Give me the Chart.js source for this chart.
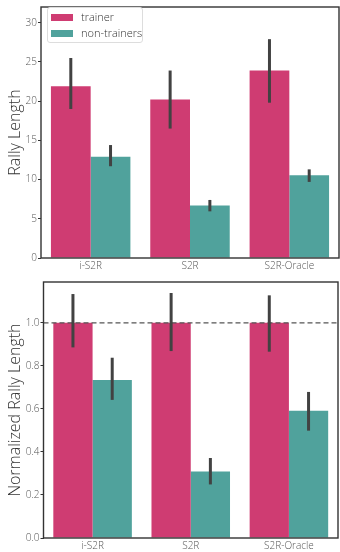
<!DOCTYPE html>
<html>
<head>
<meta charset="utf-8">
<script src="https://cdn.jsdelivr.net/npm/chart.js@4"></script>
<style>
  body { margin: 0; background: #fff; font-family: 'Open Sans', sans-serif; }
  #wrap { position: relative; width: 340px; height: 552px; }
  canvas { position: absolute; left: 0; }
  #top { top: 0; }
  #bottom { top: 275px; }
  #legend {
    position: absolute; left: 47px; top: 7px; width: 94px; height: 34px;
    border: 1px solid #ddd; border-radius: 3px; background: rgba(255,255,255,0.85);
    font-size: 11px; font-weight: 300; color: #333;
  }
  .item { position: absolute; left: 3px; height: 16px; line-height: 16px; }
  .item span.patch { position: absolute; left: 0; top: 5px; width: 22px; height: 7px; }
  .item span.txt { position: absolute; left: 30px; white-space: nowrap; }
</style>
</head>
<body>
<div id="wrap">
  <canvas id="top" width="340" height="275"></canvas>
  <canvas id="bottom" width="340" height="277"></canvas>
  <div id="legend"></div>
</div>
<script>
const categories = ['i-S2R', 'S2R', 'S2R-Oracle'];
const seriesNames = ['trainer', 'non-trainers'];
const colors = ['#cf3c72', '#50a29c'];

// rally length (mean + CI)
const trainerLength = [21.9, 20.2, 23.9];
const trainerLow = [19.0, 16.5, 19.8];
const trainerHigh = [25.5, 23.9, 27.9];
const nonTrainerLength = [12.9, 6.7, 10.55];
const nonTrainerLow = [11.7, 5.95, 9.7];
const nonTrainerHigh = [14.4, 7.4, 11.3];

// normalized rally length
const trainerNorm = [1.0, 1.0, 1.0];
const trainerNormLow = [0.886, 0.869, 0.866];
const trainerNormHigh = [1.134, 1.139, 1.128];
const nonTrainerNorm = [0.735, 0.309, 0.591];
const nonTrainerNormLow = [0.642, 0.249, 0.499];
const nonTrainerNormHigh = [0.838, 0.372, 0.679];

const topTicks = [0, 5, 10, 15, 20, 25, 30];
const bottomTicks = [0.0, 0.2, 0.4, 0.6, 0.8, 1.0];

const FONT = "'Open Sans', sans-serif";

// error bars, dashed reference line and frame
const errorBars = {
  id: 'errorBars',
  afterDatasetsDraw(chart, args, opts) {
    const ctx = chart.ctx;
    const y = chart.scales.y;
    ctx.save();
    if (opts.refLine !== undefined) {
      ctx.strokeStyle = '#555';
      ctx.lineWidth = 1.3;
      ctx.setLineDash([5, 3]);
      ctx.beginPath();
      const py = y.getPixelForValue(opts.refLine);
      ctx.moveTo(chart.chartArea.left, py);
      ctx.lineTo(chart.chartArea.right, py);
      ctx.stroke();
      ctx.setLineDash([]);
    }
    ctx.strokeStyle = '#424242';
    ctx.lineWidth = 3;
    opts.ranges.forEach((r, di) => {
      const meta = chart.getDatasetMeta(di);
      meta.data.forEach((bar, i) => {
        ctx.beginPath();
        ctx.moveTo(bar.x, y.getPixelForValue(r[0][i]));
        ctx.lineTo(bar.x, y.getPixelForValue(r[1][i]));
        ctx.stroke();
      });
    });
    const a = chart.chartArea;
    ctx.strokeStyle = '#333';
    ctx.lineWidth = 1.4;
    ctx.strokeRect(a.left, a.top, a.right - a.left, a.bottom - a.top);
    ctx.restore();
  }
};

function makeChart(id, d1, d2, ranges, yMax, ticks, title, pad, yWidth, xHeight, refLine, fmt) {
  return new Chart(document.getElementById(id), {
    type: 'bar',
    data: {
      labels: categories,
      datasets: [
        { label: seriesNames[0], data: d1, backgroundColor: colors[0] },
        { label: seriesNames[1], data: d2, backgroundColor: colors[1] },
      ],
    },
    options: {
      responsive: false,
      animation: false,
      layout: { padding: pad },
      datasets: { bar: { categoryPercentage: 0.8, barPercentage: 1.0, borderWidth: 0 } },
      plugins: {
        legend: { display: false },
        tooltip: { enabled: false },
        errorBars: { ranges, refLine },
      },
      scales: {
        x: {
          grid: { display: false, drawTicks: false },
          border: { display: false },
          ticks: { color: '#555', font: { family: FONT, size: 10, weight: 300 }, padding: 2 },
          afterFit: (s) => { s.height = xHeight; },
        },
        y: {
          min: 0,
          max: yMax,
          afterBuildTicks: (s) => { s.ticks = ticks.map((v) => ({ value: v })); },
          grid: { drawOnChartArea: false, tickLength: 3, tickColor: '#333', tickWidth: 1 },
          border: { display: false },
          ticks: {
            color: '#555', padding: 1,
            font: { family: FONT, size: 10, weight: 300 },
            callback: fmt,
          },
          title: {
            display: true, text: title, color: '#333', padding: { top: 6, bottom: 0 },
            font: { family: FONT, size: 16, weight: 300 },
          },
          afterFit: (s) => { s.width = yWidth; },
        },
      },
    },
    plugins: [errorBars],
  });
}

makeChart('top', trainerLength, nonTrainerLength,
  [[trainerLow, trainerHigh], [nonTrainerLow, nonTrainerHigh]],
  32, topTicks, 'Rally Length', { top: 2, right: 1, left: 0, bottom: 0 }, 41, 17, undefined,
  (v) => v);

makeChart('bottom', trainerNorm, nonTrainerNorm,
  [[trainerNormLow, trainerNormHigh], [nonTrainerNormLow, nonTrainerNormHigh]],
  1.19, bottomTicks, 'Normalized Rally Length', { top: 6, right: 2, left: 0, bottom: 0 }, 43.5, 14, 1.0,
  (v) => Number(v).toFixed(1));

// legend
const legend = document.getElementById('legend');
seriesNames.forEach((name, i) => {
  const item = document.createElement('div');
  item.className = 'item';
  item.style.top = (1 + i * 16) + 'px';
  item.innerHTML = '<span class="patch" style="background:' + colors[i] + '"></span><span class="txt">' + name + '</span>';
  legend.appendChild(item);
});
</script>
</body>
</html>
